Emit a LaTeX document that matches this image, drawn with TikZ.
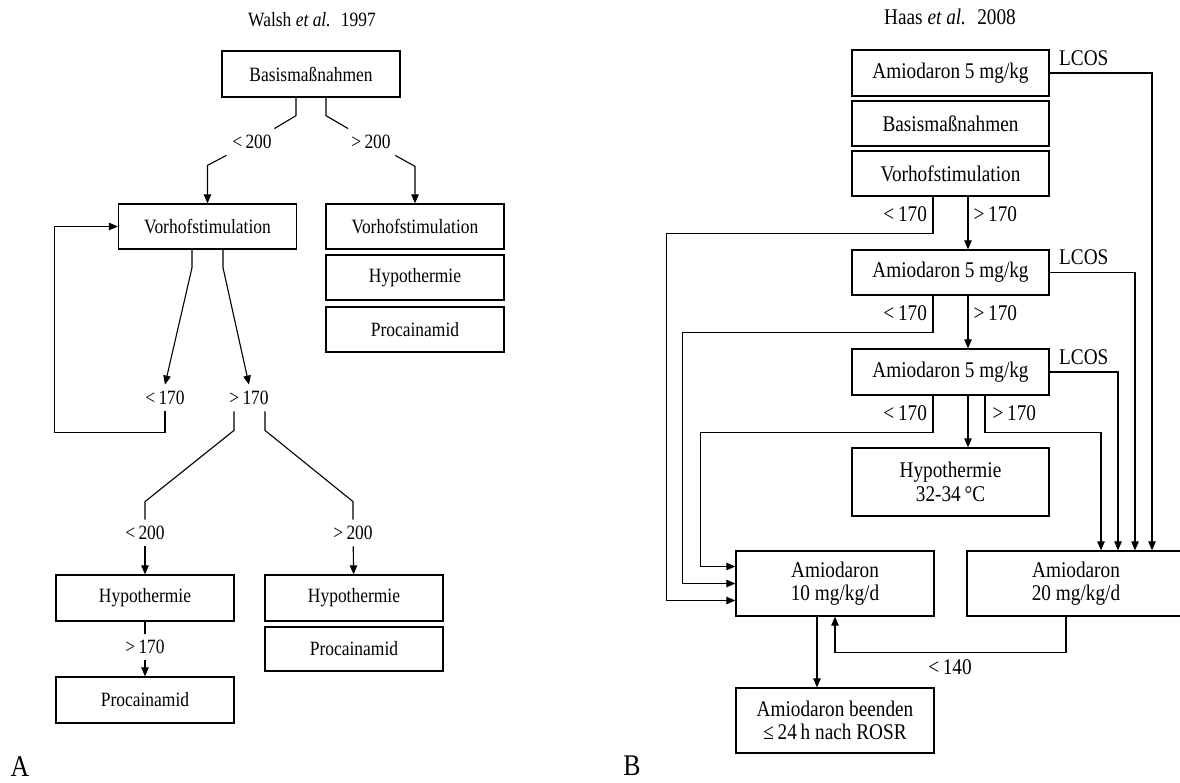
\documentclass[tikz,border=0pt]{standalone}
\usepackage{fontspec}
\setmainfont{Liberation Serif}[FakeStretch=0.86]
\usetikzlibrary{arrows.meta}

\tikzset{every picture/.style={line width=1.1pt}}
\def\sizeA{\fontsize{20.3}{24}\selectfont}
\def\sizeB{\fontsize{22.4}{23.5}\selectfont}
\tikzset{
  box/.style={draw, line width=1.3pt, minimum width=178pt, minimum height=46pt,
              inner sep=2pt, align=center, font=\sizeA},
  boxB/.style={box, minimum width=197pt, font=\sizeB},
  lbl/.style={inner sep=6pt, font=\sizeA},
  side/.style={inner sep=2pt, font=\sizeB},
  arr/.style={-{Triangle[length=9pt,width=7.5pt]}},
}

\begin{document}
\begin{tikzpicture}[x=1pt, y=-1pt]
  \useasboundingbox (0,0) rectangle (1180,783);

  % A: Walsh et al.
  \node[lbl] (titleA) at (312,20) {Walsh \textit{et al.}\enspace 1997};
  \node[box] (basisA) at (311,74) {Basismaßnahmen};
  \node[lbl] (lt200a) at (252,142) {<\,200};
  \node[lbl] (gt200a) at (371,142) {>\,200};
  \node[box, minimum height=45pt] (vorhofA) at (207.5,226.5) {Vorhofstimulation};
  \node[box, minimum height=45pt] (vorhofAr) at (415,226.5) {Vorhofstimulation};
  \node[box, minimum height=45pt] (hypoAr) at (415,277.5) {Hypothermie};
  \node[box, minimum height=45pt] (procAr) at (415,329.5) {Procainamid};
  \node[lbl] (lt170a) at (165,398) {<\,170};
  \node[lbl] (gt170a) at (249,398) {>\,170};
  \node[lbl] (lt200b) at (145,533) {<\,200};
  \node[lbl] (gt200b) at (353,533) {>\,200};
  \node[box] (hypoA) at (145,598) {Hypothermie};
  \node[lbl] (gt170b) at (145,647) {>\,170};
  \node[box] (procA) at (145,700) {Procainamid};
  \node[box] (hypoAr2) at (354,598) {Hypothermie};
  \node[box, minimum height=44pt] (procAr2) at (354,649) {Procainamid};
  \node[font=\fontsize{30}{32}\selectfont] (A) at (20,767) {A};

  \draw ([xshift=-15pt]basisA.south) -- ++(0,18) -- (lt200a);
  \draw[arr] (lt200a) -- ([yshift=38pt]vorhofA.north) -- (vorhofA.north);
  \draw ([xshift=15pt]basisA.south) -- ++(0,18) -- (gt200a);
  \draw[arr] (gt200a) -- ([yshift=37pt]vorhofAr.north) -- (vorhofAr.north);
  \draw[arr] ([xshift=-15.5pt]vorhofA.south) -- ++(0,18) -- (lt170a.north);
  \draw[arr] ([xshift=15.5pt]vorhofA.south) -- ++(0,18) -- (gt170a.north);
  \draw[arr] (lt170a.south) -- ++(0,21) -| ([xshift=-63pt]vorhofA.west) -- (vorhofA.west);
  \draw ([xshift=-15pt]gt170a.south) -- ++(0,19) -- ([yshift=18pt]lt200b.north) -- (lt200b.north);
  \draw ([xshift=16pt]gt170a.south) -- ++(0,19) -- ([yshift=18pt]gt200b.north) -- (gt200b.north);
  \draw[arr] (lt200b) -- (hypoA);
  \draw[arr] (gt200b) -- (hypoAr2);
  \draw (hypoA) -- (gt170b);
  \draw[arr] (gt170b) -- (procA);

  % B: Haas et al.
  \node[lbl, font=\sizeB] (titleB) at (950,17) {Haas \textit{et al.}\enspace 2008};
  \node[boxB] (amio1) at (950.5,73) {Amiodaron 5 mg/kg};
  \node[boxB, minimum height=45pt] (basisB) at (950.5,123.5) {Basismaßnahmen};
  \node[boxB, minimum height=45pt] (vorhofB) at (950.5,173.5) {Vorhofstimulation};
  \node[boxB, minimum height=45pt] (amio2) at (950.5,272.5) {Amiodaron 5 mg/kg};
  \node[boxB] (amio3) at (950.5,372) {Amiodaron 5 mg/kg};
  \node[boxB, minimum height=68pt] (hypoB) at (950.5,482) {Hypothermie\\32-34\,°C};
  \node[boxB, minimum width=198pt, minimum height=65pt] (amio10) at (835,583.5) {Amiodaron\\10 mg/kg/d};
  \node[boxB, minimum width=218pt, minimum height=65pt] (amio20) at (1076,583.5) {Amiodaron\\20 mg/kg/d};
  \node[boxB, minimum width=198pt, minimum height=65pt] (stopB) at (835,720.5) {Amiodaron beenden\\≤\,24\,h nach ROSR};
  \node[side] (lt140) at (950,667) {<\,140};
  \node[font=\fontsize{30}{32}\selectfont] (B) at (632,766) {B};

  % LCOS branches
  \foreach \b/\dx [count=\i] in {amio1/76, amio2/59, amio3/42} {
    \node[side, anchor=west] (lcos\i) at ([xshift=7pt,yshift=15pt]\b.east) {LCOS};
    \draw[arr] (\b.east) -| ([xshift=\dx pt]amio20.north);
  };
  % > 170 straight down
  \foreach \a/\b in {vorhofB/amio2, amio2/amio3, amio3/hypoB}
    \draw[arr] ([xshift=17.5pt]\a.south) -- ([xshift=17.5pt]\b.north);
  % < 170 to 10 mg/kg/d
  \foreach \b/\dx/\dy [count=\i] in {vorhofB/69/-17, amio2/53/0, amio3/35/17} {
    \draw[arr] ([xshift=-17.5pt]\b.south) -- ++(0,37) -| ([xshift=-\dx pt, yshift=\dy pt]amio10.west) -- ([yshift=\dy pt]amio10.west);
    \node[side, anchor=east] (lt\i) at ([xshift=-21pt,yshift=-18pt]\b.south) {<\,170};
  };
  \node[side, anchor=west] (gt1) at ([xshift=20.5pt,yshift=-18pt]vorhofB.south) {>\,170};
  \node[side, anchor=west] (gt2) at ([xshift=20.5pt,yshift=-18pt]amio2.south) {>\,170};
  \node[side, anchor=west] (gt3) at ([xshift=39.5pt,yshift=-18pt]amio3.south) {>\,170};
  \draw[arr] ([xshift=34.5pt]amio3.south) -- ++(0,37) -| ([xshift=25pt]amio20.north);
  \draw[arr] ([xshift=-10pt]amio20.south) -- ++(0,36) -| (amio10.south);
  \draw[arr] ([xshift=-18pt]amio10.south) -- ([xshift=-18pt]stopB.north);
\end{tikzpicture}
\end{document}
